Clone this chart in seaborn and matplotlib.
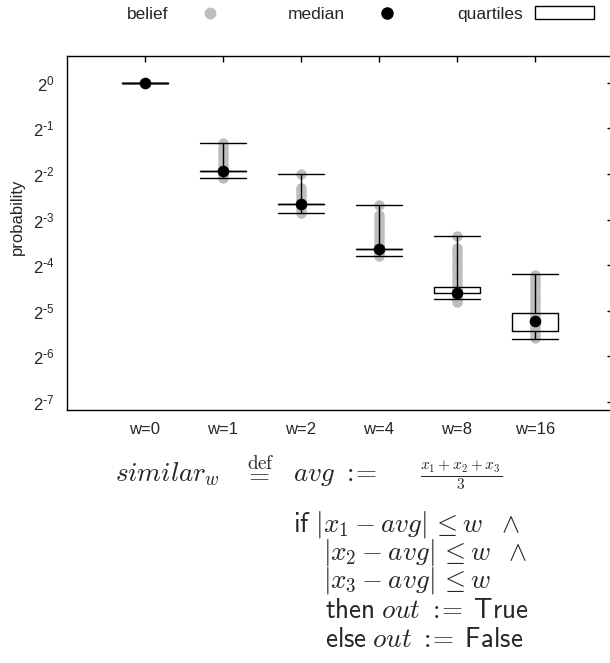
import numpy as np
import matplotlib
matplotlib.use("Agg")
import matplotlib.pyplot as plt
import seaborn as sns
import pandas as pd
from matplotlib.lines import Line2D
from matplotlib.patches import Patch
from matplotlib.ticker import NullLocator

# categories
widths = ["w=0", "w=1", "w=2", "w=4", "w=8", "w=16"]

# belief values per width (exponents)
belief_w0 = [0.0, 0.0, 0.0]
belief_w1 = [-1.32, -1.40, -1.47, -1.54, -1.61, -1.68, -1.75, -1.82, -1.88,
             -1.92, -1.93, -1.95, -1.99, -2.04, -2.09]
belief_w2 = [-1.99, -2.30, -2.36, -2.42, -2.48, -2.54, -2.60, -2.64, -2.66,
             -2.68, -2.72, -2.78, -2.85]
belief_w4 = [-2.68, -2.90, -2.97, -3.04, -3.11, -3.18, -3.25, -3.32, -3.39,
             -3.46, -3.53, -3.59, -3.63, -3.65, -3.70, -3.75, -3.80]
belief_w8 = [-3.37, -3.62, -3.69, -3.76, -3.83, -3.90, -3.97, -4.04, -4.11,
             -4.18, -4.25, -4.32, -4.39, -4.46, -4.52, -4.58, -4.62, -4.66,
             -4.71, -4.76, -4.81]
belief_w16 = [-4.21, -4.28, -4.35, -4.42, -4.49, -4.56, -4.63, -4.70, -4.77,
              -4.84, -4.91, -4.98, -5.05, -5.12, -5.19, -5.22, -5.26, -5.33,
              -5.40, -5.47, -5.54, -5.60]

# summary statistics (log2 exponents)
whisker_low = [0.0, -2.085, -2.85, -3.79, -4.75, -5.62]
quart_low = [0.0, -1.925, -2.66, -3.643, -4.615, -5.44]
medians = [0.0, -1.925, -2.66, -3.643, -4.615, -5.22]
quart_high = [0.0, -1.925, -2.66, -3.643, -4.48, -5.055]
whisker_high = [0.0, -1.32, -2.0, -2.677, -3.37, -4.20]

y_exponents = [0, -1, -2, -3, -4, -5, -6, -7]

sns.set_style("white")
plt.rcParams['font.family'] = ['Liberation Sans', 'DejaVu Sans']
plt.rcParams['axes.linewidth'] = 1.0

beliefs = [belief_w0, belief_w1, belief_w2, belief_w4, belief_w8, belief_w16]
df = pd.DataFrame({
    'w': [w for w, b in zip(widths, beliefs) for _ in b],
    'p': [2.0 ** v for b in beliefs for v in b],
})

fig = plt.figure(figsize=(6.1, 6.63), dpi=100)
ax = fig.add_axes([67 / 610, 1 - 410 / 663, 546 / 610, 354 / 663])

sns.stripplot(data=df, x='w', y='p', order=widths, jitter=False,
              color='#bebebe', size=7.5, linewidth=0, ax=ax, zorder=1)

stats = [dict(whislo=2.0 ** lo, q1=2.0 ** a, med=2.0 ** m, q3=2.0 ** b,
              whishi=2.0 ** hi)
         for lo, a, m, b, hi in zip(whisker_low, quart_low, medians,
                                    quart_high, whisker_high)]
line_kw = dict(color='k', linewidth=1.0)
ax.bxp(stats, positions=range(len(widths)), widths=0.6, capwidths=0.6,
       showfliers=False, manage_ticks=False,
       boxprops=line_kw, whiskerprops=line_kw, capprops=line_kw,
       medianprops=dict(linewidth=0), zorder=2)

sns.scatterplot(x=list(range(len(widths))), y=[2.0 ** m for m in medians],
                color='k', s=70, linewidth=0, ax=ax, zorder=3)

ax.set_yscale('log', base=2)
ax.set_ylim(2.0 ** -7.18, 2.0 ** 0.59)
ax.set_xlim(-1, 6)
ax.set_yticks([2.0 ** k for k in y_exponents])
ax.set_yticklabels([r"$\mathregular{2^{%s}}$" % (r"\text{-}%d" % -k if k < 0 else "0")
                    for k in y_exponents])
ax.yaxis.set_minor_locator(NullLocator())
ax.set_xticks(range(len(widths)))
ax.set_xticklabels(widths)
ax.tick_params(direction='in', top=True, right=True, length=4, width=1,
               color='k', labelsize=12, pad=9)
for s in ax.spines.values():
    s.set_color('k')
ax.set_xlabel('')
ax.set_ylabel('probability', fontsize=12)
ax.yaxis.set_label_coords(-0.077, 0.545)

# gnuplot-like key: one entry per fixed column
key_y = 1 - 14 / 663
key_entries = [
    (Line2D([], [], ls='none', marker='o', color='#bebebe', markersize=7.5), 'belief', 239.5),
    (Line2D([], [], ls='none', marker='o', color='k', markersize=8), 'median', 416.5),
    (Patch(facecolor='white', edgecolor='k', linewidth=1), 'quartiles', 594),
]
for handle, label, right_px in key_entries:
    fig.legend([handle], [label], loc='center right',
               bbox_to_anchor=(right_px / 610, key_y), frameon=False,
               markerfirst=False, handlelength=3.4, handletextpad=0.7,
               borderpad=0, borderaxespad=0, fontsize=12.5)

# definition of similar_w under the chart
fs = 19.5
cm = dict(math_fontfamily='cm', ha='left', va='baseline')
def fx(px):
    return px / 610
def fy(py):
    return 1 - py / 663
fig.text(fx(115), fy(481), r'$similar_w$', fontsize=fs, **cm)
fig.text(fx(244), fy(481), r'$\overset{\mathrm{def}}{=}$', fontsize=fs, **cm)
fig.text(fx(293), fy(481), r'$avg\ :\!\!=$', fontsize=fs, **cm)
fig.text(fx(420), fy(481), r'$\frac{x_1+x_2+x_3}{3}$', fontsize=15.8, **cm)
fig.text(fx(293), fy(532), r'$\mathsf{if}\ |x_1 - avg|\,\leq w\ \;\wedge$', fontsize=fs, **cm)
fig.text(fx(323), fy(560), r'$|x_2 - avg|\,\leq w\ \;\wedge$', fontsize=fs, **cm)
fig.text(fx(323), fy(588), r'$|x_3 - avg|\,\leq w$', fontsize=fs, **cm)
fig.text(fx(325), fy(618), r'$\mathsf{then}\;out\ :\!\!=\;\mathsf{True}$', fontsize=fs, **cm)
fig.text(fx(325), fy(647), r'$\mathsf{else}\;out\ :\!\!=\;\mathsf{False}$', fontsize=fs, **cm)

fig.savefig('out.png', dpi=100)
